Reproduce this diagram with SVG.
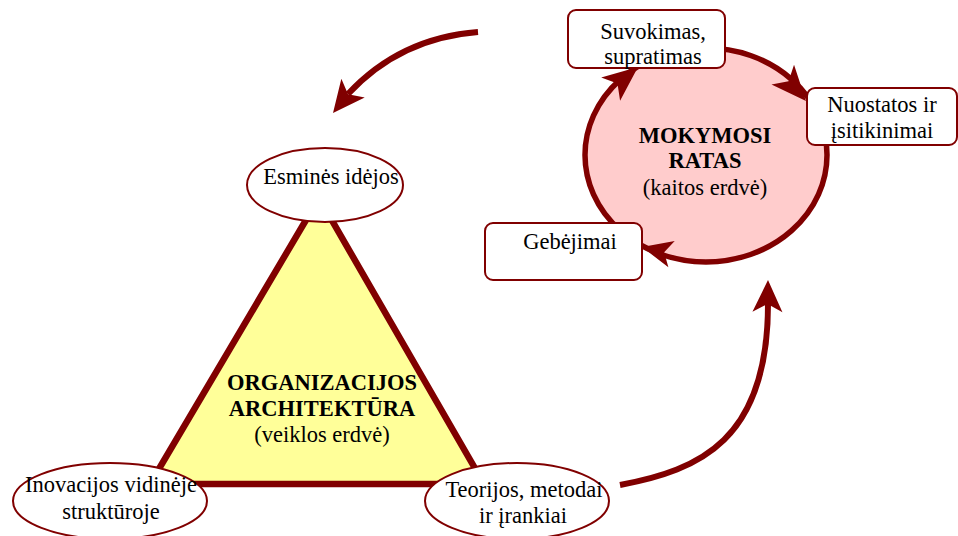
<svg xmlns="http://www.w3.org/2000/svg" width="958" height="536" viewBox="0 0 958 536">
  <style>
    text { font-family: 'Liberation Serif', 'Times New Roman', serif; font-size: 22.5px; fill: #000; text-anchor: middle; }
    .b { font-weight: bold; }
    .box { fill: #fff; stroke: #800000; stroke-width: 2; }
    .oval { fill: #fff; stroke: #800000; stroke-width: 2; }
    .shaft { fill: none; stroke: #800000; stroke-width: 6; }
    .head { fill: #800000; }
  </style>
  <defs>
    <!-- stealth arrowhead, tip at origin pointing along +x -->
    <path id="head" d="M0,0 L-32,-15 L-24,0 L-32,15 Z"/>
  </defs>

  <!-- activity space: triangle -->
  <g id="architektura">
    <polygon points="319,198 150,484 484,484" fill="#FFFF99" stroke="#800000" stroke-width="6.5" stroke-linejoin="miter"/>
    <text class="b" x="322" y="390">ORGANIZACIJOS</text>
    <text class="b" x="322" y="416">ARCHITEKTŪRA</text>
    <text x="322" y="442">(veiklos erdvė)</text>
  </g>

  <!-- change space: learning cycle -->
  <g id="mokymosi-ratas">
    <ellipse cx="706" cy="155" rx="121" ry="107" fill="#FFCCCC" stroke="#800000" stroke-width="5.5"/>
    <text class="b" x="705" y="143">MOKYMOSI</text>
    <text class="b" x="705" y="168">RATAS</text>
    <text x="705" y="195">(kaitos erdvė)</text>
  </g>

  <g id="connectors">
    <path class="shaft" d="M478,32 Q400,38 348,94"/>
    <use href="#head" class="head" transform="translate(333,113) rotate(128.8)"/>
    <path class="shaft" d="M620,485 C700,470 768,440 768,304"/>
    <use href="#head" class="head" transform="translate(768,280) rotate(-89)"/>
    <!-- direction marks on the cycle -->
    <use href="#head" class="head" transform="translate(638,67) rotate(-39) scale(1.1,1)"/>
    <use href="#head" class="head" transform="translate(806,101) rotate(48.7) scale(1.1,1)"/>
    <use href="#head" class="head" transform="translate(642,247) rotate(-166.4) scale(0.95,0.9)"/>
  </g>

  <g id="suvokimas">
    <rect class="box" x="568" y="10" width="157" height="58" rx="8"/>
    <text x="653" y="39">Suvokimas,</text>
    <text x="653" y="64">supratimas</text>
  </g>

  <g id="nuostatos">
    <rect class="box" x="807" y="88" width="150" height="57" rx="8"/>
    <text x="882" y="112">Nuostatos ir</text>
    <text x="882" y="138">įsitikinimai</text>
  </g>

  <g id="gebejimai">
    <rect class="box" x="485" y="223" width="157" height="57" rx="8"/>
    <text x="570" y="249">Gebėjimai</text>
  </g>

  <g id="esmines-idejos">
    <ellipse class="oval" cx="325" cy="185" rx="78" ry="37"/>
    <text x="331" y="184">Esminės idėjos</text>
  </g>

  <g id="inovacijos">
    <ellipse class="oval" cx="110" cy="501" rx="97" ry="38"/>
    <text x="111" y="492">Inovacijos vidinėje</text>
    <text x="111" y="519">struktūroje</text>
  </g>

  <g id="teorijos">
    <ellipse class="oval" cx="517" cy="501" rx="92" ry="38"/>
    <text x="524" y="497">Teorijos, metodai</text>
    <text x="523" y="523">ir įrankiai</text>
  </g>
</svg>
